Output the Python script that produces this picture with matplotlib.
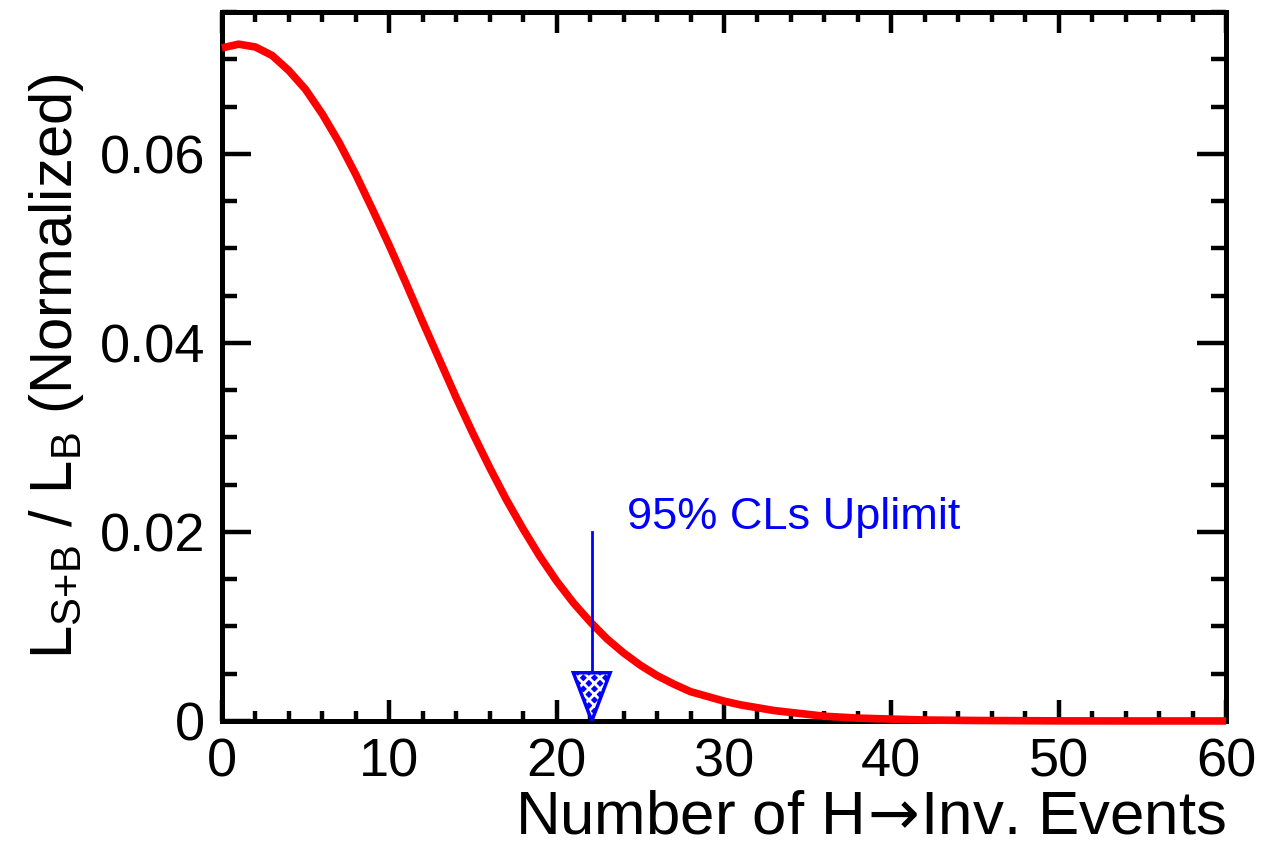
"""
Normalized S+B / B likelihood vs number of H->Inv. events with the 95% CLs upper limit.
"""
import matplotlib
matplotlib.use("Agg")
import matplotlib.pyplot as plt
from matplotlib.patches import Polygon
from matplotlib.ticker import MultipleLocator

plt.rcParams['font.family'] = ['Liberation Sans', 'DejaVu Sans']
plt.rcParams['mathtext.fontset'] = 'custom'
plt.rcParams['mathtext.rm'] = 'Liberation Sans'
plt.rcParams['mathtext.sf'] = 'DejaVu Sans'
plt.rcParams['hatch.linewidth'] = 2.0

# Curve
n_events = [0, 1, 2, 3, 4, 5, 6, 7, 8, 9, 10, 11, 12, 13, 14, 15, 16, 17, 18, 19, 20,
            21, 22, 23, 24, 25, 26, 27, 28, 29, 30, 31, 32, 33, 34, 35, 36, 37, 38,
            40, 42, 45, 50, 55, 60]
likelihood = [0.0712, 0.0716, 0.0713, 0.0704, 0.0688, 0.0668, 0.0642, 0.0612, 0.0578,
              0.0541, 0.0503, 0.0463, 0.0422, 0.0382, 0.0342, 0.0304, 0.0268, 0.0234,
              0.0203, 0.0174, 0.0148, 0.0125, 0.0105, 0.0087, 0.0072, 0.0059, 0.0048,
              0.0039, 0.0031, 0.0026, 0.0021, 0.0017, 0.0014, 0.0011, 0.0009, 0.0007,
              0.0005, 0.0004, 0.0003, 0.0002, 0.0001, 0.00005, 0.00001, 0.0, 0.0]

uplimit = 22.1
arrow_top = 0.020
head_top = 0.0051
head_halfwidth = 1.1
label_x, label_y = 24.2, 0.0215

fig = plt.figure(figsize=(12.8, 8.59), dpi=100)
ax = fig.add_axes([0.1734, 0.1607, 0.7844, 0.8253])

ax.plot(n_events, likelihood, color='#ff0000', lw=5.5, solid_joinstyle='round',
        solid_capstyle='butt', zorder=3, clip_on=False)

# CLs upper limit arrow (hatched triangle head like ROOT)
ax.plot([uplimit, uplimit], [arrow_top, 0.0], color='#0000ff', lw=2, zorder=4)
head = [(uplimit - head_halfwidth, head_top), (uplimit + head_halfwidth, head_top), (uplimit, 0.0)]
ax.add_patch(Polygon(head, closed=True, facecolor='#0000ff', edgecolor='white',
                     hatch='xxx', lw=0, zorder=4))
ax.add_patch(Polygon(head, closed=True, facecolor='none', edgecolor='#0000ff', lw=2.5, zorder=5))
ax.text(label_x, label_y, "95% CLs Uplimit", color='#0000ff', fontsize=32.5, va='center', ha='left')

ax.set_xlim(0, 60)
ax.set_ylim(0, 0.075)
ax.xaxis.set_major_locator(MultipleLocator(10))
ax.xaxis.set_minor_locator(MultipleLocator(2))
ax.yaxis.set_major_locator(MultipleLocator(0.02))
ax.yaxis.set_minor_locator(MultipleLocator(0.005))
ax.set_yticks([0, 0.02, 0.04, 0.06])
ax.set_yticklabels(["0", "0.02", "0.04", "0.06"])

ax.tick_params(axis='both', which='both', direction='in', top=True, right=True, width=3.2,
               labelsize=39)
ax.tick_params(axis='x', which='major', length=15, pad=12)
ax.tick_params(axis='x', which='minor', length=7)
ax.tick_params(axis='y', which='major', length=21, pad=12)
ax.tick_params(axis='y', which='minor', length=11)
for s in ax.spines.values():
    s.set_linewidth(3.6)

ax.set_xlabel(r"Number of H$\!\mathsf{{\rightarrow}}\!$Inv. Events", fontsize=44.5, loc='right', labelpad=1)
ax.set_ylabel(r"L$_{\mathrm{S{+}B}}$ / L$_{\mathrm{B}}$ (Normalized)", fontsize=43, loc='center', labelpad=10)

fig.savefig("out.png", dpi=100)
plt.close(fig)
